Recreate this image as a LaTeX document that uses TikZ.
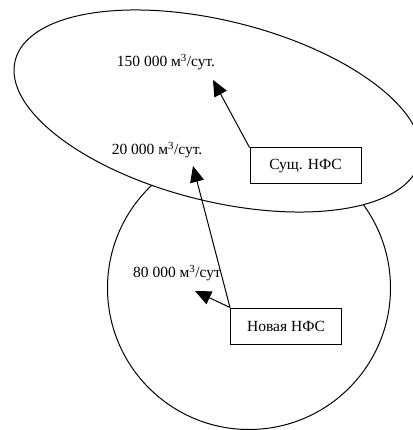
\documentclass[tikz,border=0pt]{standalone}
\usepackage{fontspec}
\setmainfont{Liberation Serif}
\usetikzlibrary{arrows.meta}
\begin{document}
\begin{tikzpicture}[x=1pt,y=-1pt,line width=1pt,
  lbl/.style={inner sep=0pt,font=\fontsize{15.5}{18}\selectfont},
  box/.style={draw,fill=white,minimum width=111pt,minimum height=36pt,inner sep=0pt,font=\fontsize{15.5}{18}\selectfont},
  arr/.style={-{Triangle[length=16pt,width=14pt]}}]
\useasboundingbox (0,0) rectangle (412,430);
\draw (249,288) circle [radius=141.5pt];
\draw[fill=white,rotate around={-14:(217.5,111)}] (217.5,111) ellipse [x radius=208.5pt, y radius=90.2pt];
\node[lbl] (t150) at (166,62) {150 000 м\textsuperscript{3}/сут.};
\node[lbl] (t20) at (157,150) {20 000 м\textsuperscript{3}/сут.};
\node[lbl] (t80) at (177,273) {80 000 м\textsuperscript{3}/сут};
\node[box] (sus) at (305.5,166) {Сущ. НФС};
\node[box] (nov) at (286,326) {Новая НФС};
\coordinate (p150) at (213,80);
\coordinate (p20) at (193,166);
\coordinate (p80) at (195,291);
\draw[arr] (sus.north west) -- (p150);
\draw[arr] (nov.north west) -- (p20);
\draw[arr] (nov.north west) -- (p80);
\end{tikzpicture}
\end{document}
